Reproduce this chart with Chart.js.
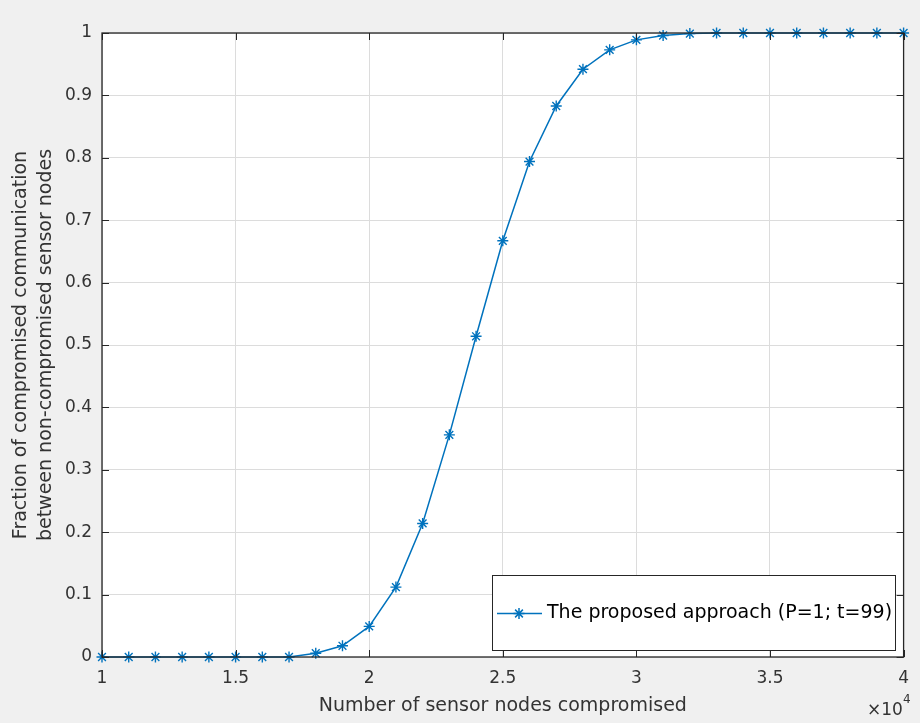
<!DOCTYPE html>
<html>
<head>
<meta charset="utf-8">
<script src="https://cdn.jsdelivr.net/npm/chart.js@4.4.1/dist/chart.umd.min.js"></script>
<style>
  html, body { margin: 0; padding: 0; background: #f0f0f0; }
  #wrap { width: 920px; height: 723px; }
</style>
</head>
<body>
<div id="wrap"><canvas id="chart" width="920" height="723"></canvas></div>
<script>
// ==========================================
// data (x in units of 10^4 nodes)
// ==========================================
const xValues = [1.0, 1.1, 1.2, 1.3, 1.4, 1.5, 1.6, 1.7, 1.8, 1.9, 2.0, 2.1, 2.2, 2.3, 2.4, 2.5,
                 2.6, 2.7, 2.8, 2.9, 3.0, 3.1, 3.2, 3.3, 3.4, 3.5, 3.6, 3.7, 3.8, 3.9, 4.0];
const yValues = [0, 0, 0, 0, 0, 0, 0, 0, 0.006, 0.018, 0.049, 0.112, 0.214, 0.356, 0.514, 0.667,
                 0.794, 0.883, 0.942, 0.973, 0.989, 0.996, 0.999, 1, 1, 1, 1, 1, 1, 1, 1];
const xTicks = [1, 1.5, 2, 2.5, 3, 3.5, 4];
const yTicks = [0, 0.1, 0.2, 0.3, 0.4, 0.5, 0.6, 0.7, 0.8, 0.9, 1];
const seriesLabel = "The proposed approach (P=1; t=99)";
const xTitle = "Number of sensor nodes compromised";
const yTitle = ["Fraction of compromised communication", "between non-compromised sensor nodes"];

const BLUE = '#0072bd';
const AXIS = '#262626';
const TEXT = '#333333';
const FONT = "'DejaVu Sans', sans-serif";

// ==========================================
// MATLAB-ish axes: background, box, inward ticks, legend, exponent
// ==========================================
const matlabAxes = {
    id: 'matlabAxes',
    beforeDraw(chart) {
        const { ctx, chartArea: a } = chart;
        ctx.save();
        ctx.fillStyle = '#f0f0f0';
        ctx.fillRect(0, 0, chart.width, chart.height);
        ctx.fillStyle = '#ffffff';
        ctx.fillRect(a.left, a.top, a.right - a.left, a.bottom - a.top);
        ctx.restore();
    },
    afterDraw(chart) {
        const { ctx, chartArea: a, scales } = chart;
        const tl = 7;
        ctx.save();
        ctx.strokeStyle = AXIS;
        ctx.lineWidth = 1;
        ctx.beginPath();
        xTicks.forEach(v => {
            const px = Math.round(scales.x.getPixelForValue(v)) + 0.5;
            ctx.moveTo(px, a.bottom); ctx.lineTo(px, a.bottom - tl);
            ctx.moveTo(px, a.top); ctx.lineTo(px, a.top + tl);
        });
        yTicks.forEach(v => {
            const py = Math.round(scales.y.getPixelForValue(v)) + 0.5;
            ctx.moveTo(a.left, py); ctx.lineTo(a.left + tl, py);
            ctx.moveTo(a.right, py); ctx.lineTo(a.right - tl, py);
        });
        ctx.stroke();
        ctx.lineWidth = 1.3;
        ctx.strokeRect(a.left, a.top, a.right - a.left, a.bottom - a.top);

        // legend box (lower right, inside the axes)
        const lx = 492, ly = 575, lw = 403, lh = 75;
        ctx.fillStyle = '#ffffff';
        ctx.fillRect(lx, ly, lw, lh);
        ctx.lineWidth = 1;
        ctx.strokeStyle = AXIS;
        ctx.strokeRect(lx + 0.5, ly + 0.5, lw, lh);
        const my = ly + lh / 2 + 1;
        ctx.strokeStyle = BLUE;
        ctx.lineWidth = 1.5;
        ctx.beginPath();
        ctx.moveTo(lx + 5, my); ctx.lineTo(lx + 50, my);
        ctx.stroke();
        Chart.helpers.drawPoint(ctx, { pointStyle: 'star', radius: 5.5, borderWidth: 1.4 }, lx + 27, my);
        ctx.fillStyle = '#000000';
        ctx.font = `19px ${FONT}`;
        ctx.textBaseline = 'middle';
        ctx.textAlign = 'left';
        ctx.fillText(seriesLabel, lx + 55, my);

        // x10^4 exponent label
        ctx.fillStyle = TEXT;
        ctx.font = `17px ${FONT}`;
        ctx.textBaseline = 'alphabetic';
        ctx.fillText('\u00d710', 867, 715);
        ctx.font = `12px ${FONT}`;
        ctx.fillText('4', 903, 703);
        ctx.restore();
    }
};

// ==========================================
// chart
// ==========================================
new Chart(document.getElementById('chart'), {
    type: 'scatter',
    data: {
        datasets: [{
            label: seriesLabel,
            data: xValues.map((x, i) => ({ x: x, y: yValues[i] })),
            showLine: true,
            tension: 0,
            borderColor: BLUE,
            borderWidth: 1.5,
            pointStyle: 'star',
            pointRadius: 5.5,
            pointBorderWidth: 1.4,
            pointBorderColor: BLUE,
            pointBackgroundColor: BLUE,
            clip: false
        }]
    },
    options: {
        responsive: false,
        animation: false,
        events: [],
        layout: { padding: { top: 33, right: 8, left: 0, bottom: 0 } },
        plugins: { legend: { display: false }, tooltip: { enabled: false } },
        scales: {
            x: {
                type: 'linear',
                min: 1, max: 4,
                afterBuildTicks: s => { s.ticks = xTicks.map(v => ({ value: v })); },
                afterFit: s => { s.height = 66; },
                grid: { color: '#dcdcdc', lineWidth: 1, drawTicks: false },
                border: { display: false },
                ticks: {
                    padding: 11,
                    color: TEXT,
                    font: { family: FONT, size: 17 },
                    maxRotation: 0,
                    callback: v => String(v)
                },
                title: {
                    display: true,
                    text: xTitle,
                    color: TEXT,
                    font: { family: FONT, size: 19 },
                    padding: { top: 0, bottom: 6 }
                }
            },
            y: {
                type: 'linear',
                min: 0, max: 1,
                afterBuildTicks: s => { s.ticks = yTicks.map(v => ({ value: v })); },
                afterFit: s => { s.width = 102; },
                grid: { color: '#dcdcdc', lineWidth: 1, drawTicks: false },
                border: { display: false },
                ticks: {
                    padding: 10,
                    color: TEXT,
                    font: { family: FONT, size: 17 },
                    callback: v => String(v)
                },
                title: {
                    display: true,
                    text: yTitle,
                    color: TEXT,
                    font: { family: FONT, size: 19, lineHeight: 1.35 },
                    padding: { top: 8, bottom: 0 }
                }
            }
        }
    },
    plugins: [matlabAxes]
});
</script>
</body>
</html>
